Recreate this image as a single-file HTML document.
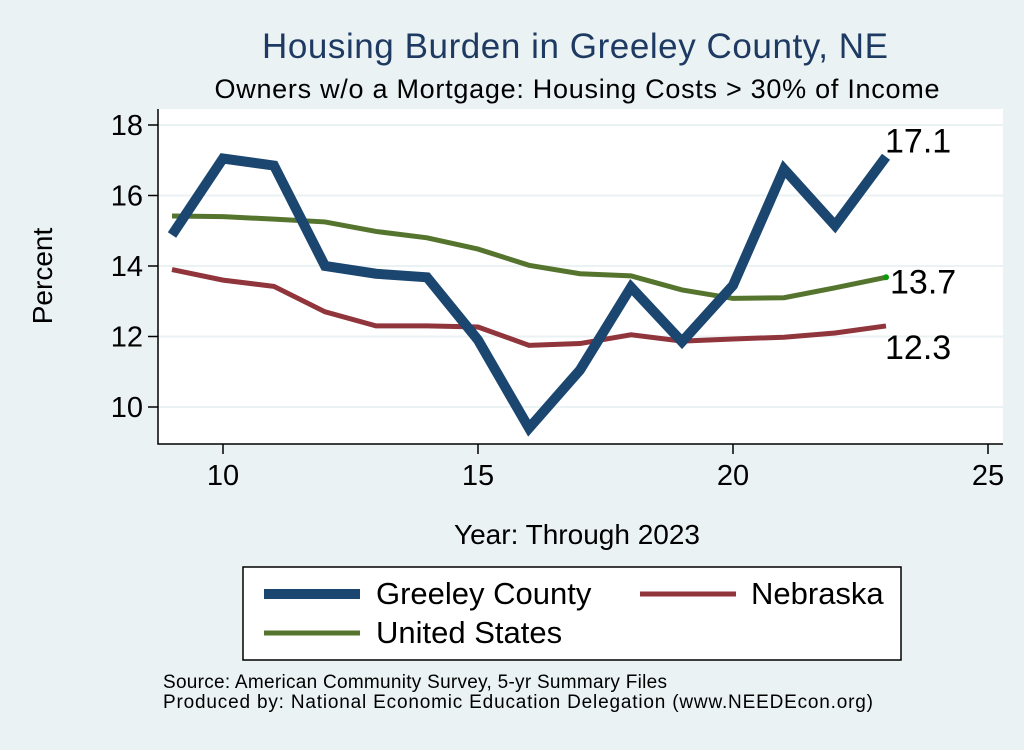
<!DOCTYPE html>
<html><head><meta charset="utf-8"><style>
body{margin:0;width:1024px;height:745px;background:#eaf2f3;font-family:"Liberation Sans",sans-serif;overflow:hidden}
</style></head><body>
<svg width="1024" height="745" font-family="Liberation Sans, sans-serif">
<rect x="0" y="0" width="1024" height="745" fill="#eaf2f3"/>
<text x="575" y="58" font-size="35" fill="#1e3a62" text-anchor="middle" textLength="626">Housing Burden in Greeley County, NE</text>
<text x="577" y="98" font-size="27" fill="#000" text-anchor="middle" textLength="725">Owners w/o a Mortgage: Housing Costs &gt; 30% of Income</text>
<rect x="158" y="109" width="845" height="335" fill="#fff"/>
<g id="grid"></g>
<g id="series"></g>
<g id="axes"></g>
<text x="52" y="276" font-size="28" text-anchor="middle" transform="rotate(-90 52 276)">Percent</text>
<text x="577" y="544" font-size="28" text-anchor="middle">Year: Through 2023</text>
<g>
<rect x="243" y="567" width="658" height="93" fill="#fff" stroke="#000" stroke-width="1.5"/>
<line x1="264" y1="594" x2="360" y2="594" stroke="#1a4670" stroke-width="10"/>
<text x="376" y="604" font-size="31">Greeley County</text>
<line x1="640" y1="594" x2="736" y2="594" stroke="#90353b" stroke-width="5"/>
<text x="751" y="604" font-size="31">Nebraska</text>
<line x1="264" y1="633" x2="360" y2="633" stroke="#55752f" stroke-width="5"/>
<text x="376" y="643" font-size="31">United States</text>
</g>
<text x="163" y="688" font-size="19" textLength="504">Source: American Community Survey, 5-yr Summary Files</text>
<text x="163" y="708" font-size="19" textLength="710">Produced by: National Economic Education Delegation (www.NEEDEcon.org)</text>
</svg>
<script>
const years=[9,10,11,12,13,14,15,16,17,18,19,20,21,22,23];
const greeley=[14.88,17.05,16.85,14.0,13.78,13.68,11.9,9.4,11.05,13.4,11.85,13.45,16.75,15.15,17.1];
const nebraska=[13.9,13.6,13.42,12.7,12.3,12.3,12.27,11.75,11.8,12.05,11.87,11.93,11.98,12.1,12.3];
const us=[15.42,15.4,15.33,15.25,14.98,14.8,14.48,14.02,13.78,13.72,13.32,13.08,13.1,13.38,13.68];
const yTicks=[10,12,14,16,18];
const xTicks=[10,15,20,25];
const NS='http://www.w3.org/2000/svg';
const xs=v=>223+(v-10)*51;
const ys=v=>407-(v-10)*35.25;
function mk(t,a,p){const e=document.createElementNS(NS,t);for(const k in a)e.setAttribute(k,a[k]);document.getElementById(p).appendChild(e);return e;}
yTicks.forEach(v=>{
 const g=mk('line',{x1:158,x2:1003,y1:ys(v),y2:ys(v),stroke:'#eaf2f3','stroke-width':2},'grid');
 
 
 const t=mk('line',{x1:148,x2:158,y1:ys(v),y2:ys(v),stroke:'#000','stroke-width':1.5},'axes');
 
 
 const l=mk('text',{x:143,y:ys(v)+10,'font-size':29,'text-anchor':'end'},'axes');l.textContent=v;
 
 
});
xTicks.forEach(v=>{
 const t=mk('line',{x1:xs(v),x2:xs(v),y1:444,y2:454,stroke:'#000','stroke-width':1.5},'axes');
 
 
 const l=mk('text',{x:xs(v),y:485,'font-size':29,'text-anchor':'middle'},'axes');l.textContent=v;
 
 
});
const ax=mk('path',{d:'M158 109 V444 H1003',fill:'none',stroke:'#000','stroke-width':1.5},'axes');


function line(vals,col,w,name,dx,dy,dot){
 const p=mk('polyline',{points:vals.map((v,i)=>xs(years[i])+','+ys(v)).join(' '),fill:'none',stroke:col,'stroke-width':w,'stroke-linejoin':'miter'},'series');
 
 
 const last=vals[vals.length-1];
 const lx=xs(years[years.length-1]);
 if(dot){const c=mk('circle',{cx:lx,cy:ys(last),r:3,fill:dot},'series');
  
  }
 const t=mk('text',{x:lx+dx,y:ys(last)+dy,'font-size':34},'series');t.textContent=last.toFixed(1);
 
 
}
line(us,'#55752f',5,'us-line',4,16,'#0a9a0a');
line(nebraska,'#90353b',5,'nebraska-line',-1,33,null);
line(greeley,'#1a4670',10,'greeley-line',-1,-4,null);
</script>
</body></html>
